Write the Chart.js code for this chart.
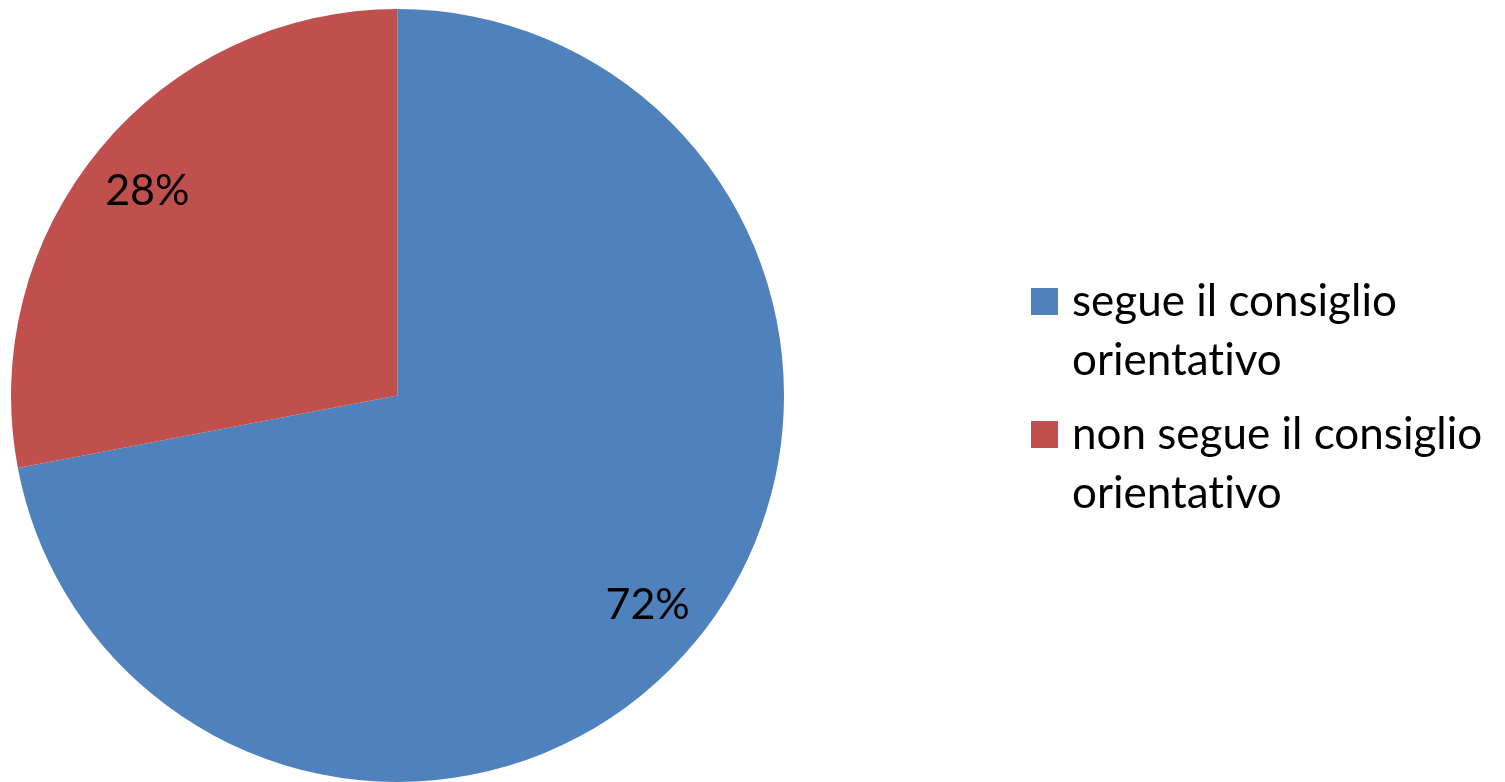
<!DOCTYPE html>
<html>
<head>
<meta charset="utf-8">
<script src="https://cdn.jsdelivr.net/npm/chart.js"></script>
<style>
  html, body { margin: 0; padding: 0; background: #fff; }
  #wrap { position: relative; width: 1505px; height: 782px; }
  #legend { position: absolute; left: 1031px; top: 278px; width: 470px;
            font-family: Lato, "Open Sans", sans-serif; font-size: 44px; color: #000;
            font-variant-ligatures: none; }
  .item { display: flex; align-items: flex-start; margin-bottom: 23px; }
  .box { width: 27px; height: 27px; margin-top: 10px; margin-right: 14px; flex: none; }
  .txt { width: 425px; line-height: 59px; margin-top: -8px; }
</style>
</head>
<body>
<div id="wrap">
  <canvas id="myChart" width="1505" height="782"></canvas>
  <div id="legend"></div>
</div>
<script>
const labels = ["segue il consiglio orientativo", "non segue il consiglio orientativo"]
const values = [72, 28]
const colors = ["#4F81BD", "#C0504D"]

// percent labels drawn on the slices
const sliceLabels = {
    id: 'sliceLabels',
    afterDatasetsDraw(chart) {
        const ctx = chart.ctx
        const meta = chart.getDatasetMeta(0)
        const total = values.reduce((a, b) => a + b, 0)
        ctx.save()
        ctx.font = '43px Lato, "Open Sans", sans-serif'
        ctx.fillStyle = '#000'
        ctx.textAlign = 'center'
        ctx.textBaseline = 'middle'
        meta.data.forEach((arc, i) => {
            const p = arc.getProps(['x', 'y', 'startAngle', 'endAngle', 'outerRadius'], true)
            const mid = (p.startAngle + p.endAngle) / 2
            const r = p.outerRadius * 0.84
            const pct = Math.round(values[i] / total * 100) + '%'
            ctx.fillText(pct, p.x + Math.cos(mid) * r, p.y + Math.sin(mid) * r + 3)
        })
        ctx.restore()
    }
}

const myChart = document.getElementById("myChart").getContext('2d')

const pieChart = new Chart(myChart, {
    type: 'pie',
    data: {
        labels: labels,
        datasets: [{
            data: values,
            backgroundColor: colors,
            borderWidth: 0
        }]
    },
    options: {
        responsive: false,
        animation: false,
        layout: { padding: { left: 11, right: 721, top: 9, bottom: 0 } },
        plugins: {
            legend: { display: false },
            tooltip: { enabled: false }
        }
    },
    plugins: [sliceLabels]
})

const legend = document.getElementById("legend")
labels.forEach((l, i) => {
    const item = document.createElement("div")
    item.className = "item"
    item.innerHTML = '<div class="box" style="background:' + colors[i] + '"></div><div class="txt">' + l + '</div>'
    legend.appendChild(item)
})
</script>
</body>
</html>
